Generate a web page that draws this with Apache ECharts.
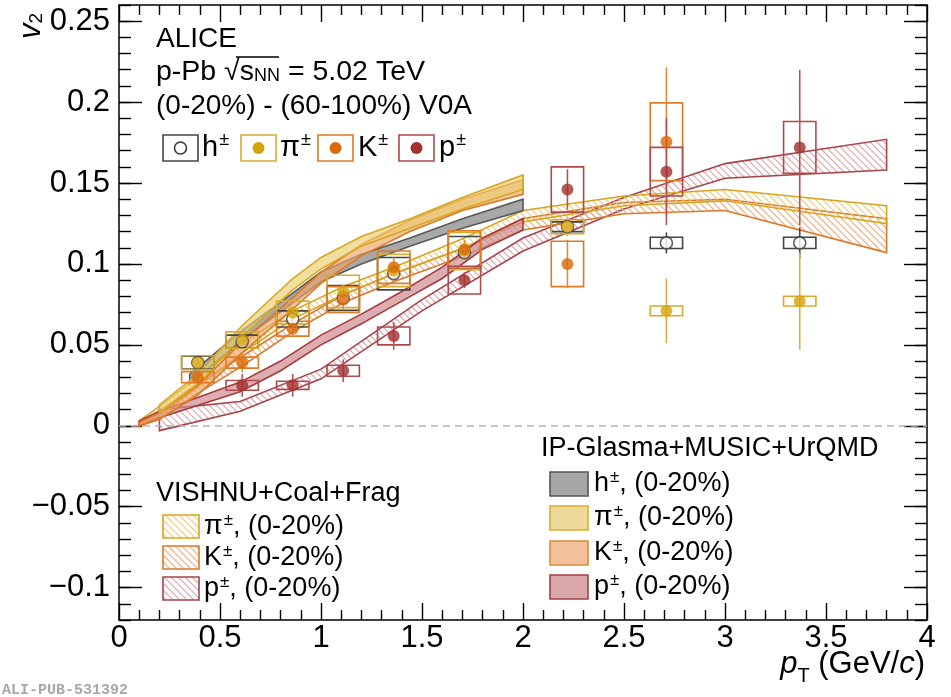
<!DOCTYPE html>
<html>
<head>
<meta charset="utf-8">
<script src="https://cdn.jsdelivr.net/npm/echarts@6/dist/echarts.min.js"></script>
<style>html,body{margin:0;padding:0;background:#fff}#c{width:951px;height:697px}</style>
</head>
<body>
<div id="c"></div>
<script>
// ---------------- data ----------------
const xTickLabels = [0, 0.5, 1, 1.5, 2, 2.5, 3, 3.5, 4];
const yTickLabels = [-0.1, -0.05, 0, 0.05, 0.1, 0.15, 0.2, 0.25];

const ptX   = [0.39, 0.61, 0.86, 1.11, 1.36, 1.71, 2.22, 2.71, 3.37];
const hV2   = [0.039, 0.052, 0.066, 0.079, 0.094, 0.107, 0.123, 0.113, 0.113];
const hStat = [0.002, 0.002, 0.002, 0.002, 0.002, 0.002, 0.003, 0.0065, 0.0095];
const hSys  = [0.004, 0.004, 0.005, 0.0077, 0.010, 0.010, 0.003, 0.0035, 0.0035];

const piV2   = [0.039, 0.053, 0.070, 0.083, 0.096, 0.108, 0.123, 0.071, 0.077];
const piStat = [0.002, 0.003, 0.003, 0.004, 0.005, 0.005, 0.006, 0.020, 0.030];
const piSys  = [0.0043, 0.005, 0.007, 0.010, 0.010, 0.0115, 0.0043, 0.003, 0.003];

const kX    = [0.39, 0.61, 0.86, 1.11, 1.36, 1.71, 2.22, 2.71];
const kV2   = [0.030, 0.039, 0.060, 0.078, 0.098, 0.109, 0.100, 0.1755];
const kStat = [0.002, 0.006, 0.004, 0.006, 0.006, 0.006, 0.015, 0.046];
const kSys  = [0.0034, 0.0034, 0.0046, 0.008, 0.010, 0.0115, 0.014, 0.024];

const pX    = [0.61, 0.86, 1.11, 1.36, 1.71, 2.22, 2.71, 3.37];
const pV2   = [0.025, 0.025, 0.034, 0.0555, 0.090, 0.146, 0.157, 0.172];
const pStat = [0.007, 0.007, 0.007, 0.0085, 0.005, 0.0125, 0.033, 0.048];
const pSys  = [0.003, 0.0025, 0.0034, 0.0055, 0.0086, 0.014, 0.015, 0.016];

// IP-Glasma+MUSIC+UrQMD bands
const ipHX  = [0.35, 0.39, 0.61, 0.86, 1.0, 1.2, 1.44, 1.7, 2.0];
const ipHLo = [0.026, 0.030, 0.053, 0.076, 0.089, 0.100, 0.111, 0.122, 0.133];
const ipHHi = [0.032, 0.036, 0.059, 0.082, 0.095, 0.106, 0.116, 0.128, 0.140];

const ipPiX  = [0.2, 0.39, 0.61, 0.86, 1.0, 1.2, 1.44, 1.7, 2.0];
const ipPiLo = [0.008, 0.026, 0.055, 0.084, 0.097, 0.111, 0.122, 0.134, 0.146];
const ipPiHi = [0.013, 0.032, 0.062, 0.091, 0.104, 0.117, 0.128, 0.141, 0.155];

const ipKX  = [0.1, 0.2, 0.39, 0.61, 0.86, 1.0, 1.2, 1.44, 1.7, 2.0];
const ipKLo = [0.000, 0.004, 0.019, 0.045, 0.072, 0.088, 0.105, 0.120, 0.133, 0.143];
const ipKHi = [0.002, 0.008, 0.025, 0.052, 0.079, 0.095, 0.112, 0.127, 0.140, 0.152];

const ipPX  = [0.1, 0.2, 0.4, 0.6, 0.8, 1.0, 1.2, 1.4, 1.6, 1.8, 2.0];
const ipPLo = [0.000, 0.005, 0.013, 0.021, 0.034, 0.050, 0.063, 0.077, 0.091, 0.109, 0.121];
const ipPHi = [0.003, 0.009, 0.018, 0.027, 0.040, 0.056, 0.069, 0.083, 0.098, 0.116, 0.128];

// VISHNU+Coal+Frag bands
const vsX    = [0.1, 0.2, 0.39, 0.61, 0.86, 1.11, 1.36, 1.71, 2.0, 2.5, 3.0, 3.8];
const vsPiLo = [0.000, 0.006, 0.024, 0.045, 0.066, 0.081, 0.094, 0.110, 0.126, 0.136, 0.139, 0.125];
const vsPiHi = [0.003, 0.012, 0.030, 0.051, 0.071, 0.086, 0.098, 0.116, 0.133, 0.142, 0.146, 0.136];
const vsKLo  = [0.000, 0.004, 0.020, 0.037, 0.058, 0.076, 0.089, 0.105, 0.121, 0.131, 0.133, 0.107];
const vsKHi  = [0.002, 0.009, 0.026, 0.043, 0.063, 0.081, 0.094, 0.110, 0.128, 0.138, 0.140, 0.128];
const vsPX   = [0.2, 0.6, 1.0, 1.5, 2.0, 2.5, 3.0, 3.8];
const vsPLo  = [-0.003, 0.009, 0.029, 0.071, 0.108, 0.134, 0.153, 0.158];
const vsPHi  = [0.010, 0.015, 0.035, 0.078, 0.116, 0.141, 0.162, 0.177];

// ---------------- styling ----------------
const FONT = 'Liberation Sans, Arial, Helvetica, sans-serif';
const C = {
  h: '#3a3a3a', pi: '#d6a20a', k: '#d96a06', p: '#a3302e',
  hBox: '#454545', piBox: '#d9aa2c', kBox: '#df7a25', pBox: '#b04a4a',
  ipH: '#a8a8a8', ipHs: '#5a5a5a',
  ipPi: 'rgba(234,204,110,0.65)', ipPis: '#d8a820',
  ipK: 'rgba(236,165,105,0.65)', ipKs: '#dc7a22',
  ipP: 'rgba(205,140,145,0.7)', ipPs: '#a8383c',
  vsPi: '#ebc979', vsPis: '#d9a520',
  vsK: '#eeaa78', vsKs: '#d9782a',
  vsP: '#d7a4a8', vsPs: '#a8434a'
};
function hatch(color) {
  const s = 7, c = document.createElement('canvas');
  c.width = s; c.height = s;
  const g = c.getContext('2d');
  g.strokeStyle = color; g.lineWidth = 1.1;
  g.beginPath();
  g.moveTo(0, 0); g.lineTo(s, s);
  g.moveTo(-1, s - 1); g.lineTo(1, s + 1);
  g.moveTo(s - 1, -1); g.lineTo(s + 1, 1);
  g.stroke();
  return { image: c, repeat: 'repeat' };
}

function bandSeries(name, xs, lo, hi, fill, stroke) {
  const data = xs.map((x, i) => [x, lo[i], hi[i]]);
  return {
    type: 'custom', name, data, silent: true,
    encode: { x: 0, y: [1, 2] },
    renderItem: (params, api) => {
      if (params.dataIndex !== 0) return null;
      const top = data.map(d => api.coord([d[0], d[2]]));
      const bot = data.map(d => api.coord([d[0], d[1]])).reverse();
      return { type: 'polygon', shape: { points: top.concat(bot) },
        style: { fill, stroke, lineWidth: 1.6 } };
    }
  };
}

function errSeries(name, xs, ys, stat, sys, boxColor, barColor) {
  const data = xs.map((x, i) => [x, ys[i], stat[i], sys[i]]);
  return {
    type: 'custom', name, data, silent: true,
    encode: { x: 0, y: 1 },
    renderItem: (params, api) => {
      const x = api.value(0), y = api.value(1), st = api.value(2), sy = api.value(3);
      const a = api.coord([x - 0.08, y + sy]);
      const b = api.coord([x + 0.08, y - sy]);
      const t = api.coord([x, y + st]);
      const u = api.coord([x, y - st]);
      return { type: 'group', children: [
        { type: 'rect', shape: { x: a[0], y: a[1], width: b[0] - a[0], height: b[1] - a[1] },
          style: { fill: 'none', stroke: boxColor, lineWidth: 1.6 } },
        { type: 'line', shape: { x1: t[0], y1: t[1], x2: u[0], y2: u[1] },
          style: { stroke: barColor, lineWidth: 1.6 } }
      ]};
    }
  };
}

function ptSeries(name, xs, ys, color, open) {
  return {
    type: 'scatter', name, data: xs.map((x, i) => [x, ys[i]]),
    symbol: 'circle', symbolSize: 12, silent: true,
    itemStyle: open ? { color: '#fff', borderColor: color, borderWidth: 1.6 } : { color }
  };
}

const minorY = [];
for (let i = -12; i <= 26; i++) minorY.push(+(i * 0.01).toFixed(2));
const fmtY = v => (v < 0 ? '\u2212' : '') + Math.abs(v);

const axisLineStyle = { color: '#000', width: 1.5 };
const tickStyle = { color: '#000', width: 1.4 };

const xAxisBase = {
  type: 'value', min: 0, max: 4, interval: 0.5,
  axisLine: { show: true, onZero: false, lineStyle: axisLineStyle },
  axisTick: { show: true, inside: true, length: 17, lineStyle: tickStyle },
  minorTick: { show: true, splitNumber: 5, length: 10, lineStyle: tickStyle },
  splitLine: { show: false }
};
const yRange = { type: 'value', min: -0.12, max: 0.26, splitLine: { show: false } };

const option = {
  animation: false,
  backgroundColor: '#fff',
  grid: { left: 119, right: 24, top: 5, bottom: 77 },
  xAxis: [
    Object.assign({}, xAxisBase, { position: 'bottom',
      axisLabel: { show: true, fontFamily: FONT, fontSize: 31, color: '#000', margin: 3,
        customValues: xTickLabels } }),
    Object.assign({}, xAxisBase, { position: 'top', axisLabel: { show: false } })
  ],
  yAxis: [
    Object.assign({}, yRange, { position: 'left',
      axisLine: { show: true, onZero: false, lineStyle: axisLineStyle },
      axisTick: { show: true, inside: true, length: 23, lineStyle: tickStyle, customValues: yTickLabels },
      axisLabel: { show: true, fontFamily: FONT, fontSize: 31, color: '#000', margin: 9,
        customValues: yTickLabels, formatter: fmtY } }),
    Object.assign({}, yRange, { position: 'left',
      axisLine: { show: false, onZero: false },
      axisTick: { show: true, inside: true, length: 12, lineStyle: tickStyle, customValues: minorY },
      axisLabel: { show: false } }),
    Object.assign({}, yRange, { position: 'right',
      axisLine: { show: true, onZero: false, lineStyle: axisLineStyle },
      axisTick: { show: true, inside: true, length: 23, lineStyle: tickStyle, customValues: yTickLabels },
      axisLabel: { show: false } }),
    Object.assign({}, yRange, { position: 'right',
      axisLine: { show: false, onZero: false },
      axisTick: { show: true, inside: true, length: 12, lineStyle: tickStyle, customValues: minorY },
      axisLabel: { show: false } })
  ],
  series: [
    bandSeries('VISHNU p', vsPX, vsPLo, vsPHi, hatch(C.vsP), C.vsPs),
    bandSeries('VISHNU K', vsX, vsKLo, vsKHi, hatch(C.vsK), C.vsKs),
    bandSeries('VISHNU pi', vsX, vsPiLo, vsPiHi, hatch(C.vsPi), C.vsPis),
    bandSeries('IP p', ipPX, ipPLo, ipPHi, C.ipP, C.ipPs),
    bandSeries('IP h', ipHX, ipHLo, ipHHi, C.ipH, C.ipHs),
    bandSeries('IP K', ipKX, ipKLo, ipKHi, C.ipK, C.ipKs),
    bandSeries('IP pi', ipPiX, ipPiLo, ipPiHi, C.ipPi, C.ipPis),
    Object.assign(errSeries('h err', ptX, hV2, hStat, hSys, C.hBox, C.hBox), {
      markLine: { silent: true, symbol: 'none', label: { show: false },
        lineStyle: { color: '#b4b4b4', type: [7, 5], width: 1.5 },
        data: [{ yAxis: 0 }] } }),
    errSeries('pi err', ptX, piV2, piStat, piSys, C.piBox, '#dcb040'),
    errSeries('K err', kX, kV2, kStat, kSys, C.kBox, '#e08a3a'),
    errSeries('p err', pX, pV2, pStat, pSys, C.pBox, '#b65454'),
    ptSeries('h', ptX, hV2, C.h, true),
    ptSeries('pi', ptX, piV2, C.pi, false),
    ptSeries('K', kX, kV2, C.k, false),
    ptSeries('p', pX, pV2, C.p, false)
  ],
  graphic: []
};

// ---------------- texts & legends ----------------
const G = option.graphic;
function txt(x, y, rich, text, align, extra) {
  G.push(Object.assign({ type: 'text', x, y, silent: true, style: {
    text, rich, fontFamily: FONT, fill: '#000',
    align: align || 'left', textAlign: align || 'left',
    verticalAlign: 'middle', textVerticalAlign: 'middle' } }, extra || {}));
}
const R = (fs) => ({
  t: { fontFamily: FONT, fontSize: fs, color: '#000', lineHeight: fs + 4 },
  sup: { fontFamily: FONT, fontSize: Math.round(fs * 0.62), color: '#000', padding: [0, 0, Math.round(fs * 0.5), 1] },
  sub: { fontFamily: FONT, fontSize: Math.round(fs * 0.62), color: '#000', padding: [Math.round(fs * 0.32), 0, 0, 0] },
  i: { fontFamily: FONT, fontSize: fs, color: '#000', fontStyle: 'italic', lineHeight: fs + 4 }
});

txt(156, 39, R(28), '{t|ALICE}');
txt(156, 72, R(28.5), '{t|p-Pb }{t|\u221A}{t|s}{sub|NN}{t| = 5.02 TeV}');
txt(156, 106, R(28), '{t|(0-20%) - (60-100%) V0A}');
G.push({ type: 'line', silent: true, shape: { x1: 236, y1: 57, x2: 279, y2: 57 }, style: { stroke: '#000', lineWidth: 1.3 } });

// top data legend
const topLeg = [
  { x: 163, tx: 202, lab: 'h', col: C.h, box: C.hBox, open: true },
  { x: 241, tx: 280, lab: '\u03C0', col: C.pi, box: C.piBox },
  { x: 318, tx: 358, lab: 'K', col: C.k, box: C.kBox },
  { x: 399, tx: 439, lab: 'p', col: C.p, box: C.pBox }
];
topLeg.forEach(o => {
  G.push({ type: 'rect', silent: true, shape: { x: o.x, y: 135, width: 35, height: 26 },
    style: { fill: 'none', stroke: o.box, lineWidth: 1.6 } });
  G.push({ type: 'circle', silent: true, shape: { cx: o.x + 17.5, cy: 148, r: 6 },
    style: o.open ? { fill: '#fff', stroke: o.col, lineWidth: 1.6 } : { fill: o.col } });
  txt(o.tx, 148, R(29), '{t|' + o.lab + '}{sup|\u00B1}');
});

// VISHNU legend
txt(156, 494, R(27), '{t|VISHNU+Coal+Frag}');
const vsLeg = [
  { y: 515, lab: '\u03C0', f: C.vsPi, s: C.vsPis },
  { y: 546, lab: 'K', f: C.vsK, s: C.vsKs },
  { y: 577, lab: 'p', f: C.vsP, s: C.vsPs }
];
vsLeg.forEach(o => {
  G.push({ type: 'rect', silent: true, shape: { x: 163, y: o.y, width: 36, height: 23 },
    style: { fill: hatch(o.f), stroke: o.s, lineWidth: 1.6 } });
  txt(204, o.y + 12, R(27), '{t|' + o.lab + '}{sup|\u00B1}{t|, (0-20%)}');
});

// IP-Glasma legend
txt(541, 449, R(27), '{t|IP-Glasma+MUSIC+UrQMD}');
const ipLeg = [
  { y: 472, lab: 'h', f: '#a6a6a6', s: '#555' },
  { y: 506, lab: '\u03C0', f: '#eed89a', s: '#d9b030' },
  { y: 541, lab: 'K', f: '#f2c09a', s: '#e08a3a' },
  { y: 575, lab: 'p', f: '#d9a6aa', s: '#a84040' }
];
ipLeg.forEach(o => {
  G.push({ type: 'rect', silent: true, shape: { x: 550, y: o.y, width: 38, height: 24 },
    style: { fill: o.f, stroke: o.s, lineWidth: 1.6 } });
  txt(594, o.y + 12, R(27), '{t|' + o.lab + '}{sup|\u00B1}{t|, (0-20%)}');
});

// axis titles
txt(925, 664, { i: { fontFamily: FONT, fontSize: 31, fontStyle: 'italic', color: '#000', lineHeight: 35 },
  sub: { fontFamily: FONT, fontSize: 20, color: '#000', padding: [24, 0, 0, 0] },
  t: { fontFamily: FONT, fontSize: 31, color: '#000', lineHeight: 35 } },
  '{i|p}{sub|T}{t| (GeV/}{i|c}{t|)}', 'right');
G.push({ type: 'text', x: 31, y: 26, rotation: Math.PI / 2, silent: true, style: {
  text: '{i|v}{sub|2}', fontFamily: FONT, fill: '#000', align: 'center', textAlign: 'center',
  verticalAlign: 'middle', textVerticalAlign: 'middle',
  rich: { i: { fontFamily: FONT, fontSize: 31, fontStyle: 'italic', color: '#000', lineHeight: 34 },
          sub: { fontFamily: FONT, fontSize: 19, color: '#000', padding: [12, 0, 0, 0] } } } });
G.push({ type: 'text', x: 2, y: 690, silent: true, style: {
  text: 'ALI-PUB-531392', fontFamily: 'Liberation Mono, DejaVu Sans Mono, monospace',
  fontWeight: 'bold', fontSize: 15, fill: '#a8a8a8', align: 'left', textAlign: 'left',
  verticalAlign: 'middle', textVerticalAlign: 'middle' } });

const chart = echarts.init(document.getElementById('c'), null, { renderer: 'canvas' });
chart.setOption(option);
</script>
</body>
</html>
